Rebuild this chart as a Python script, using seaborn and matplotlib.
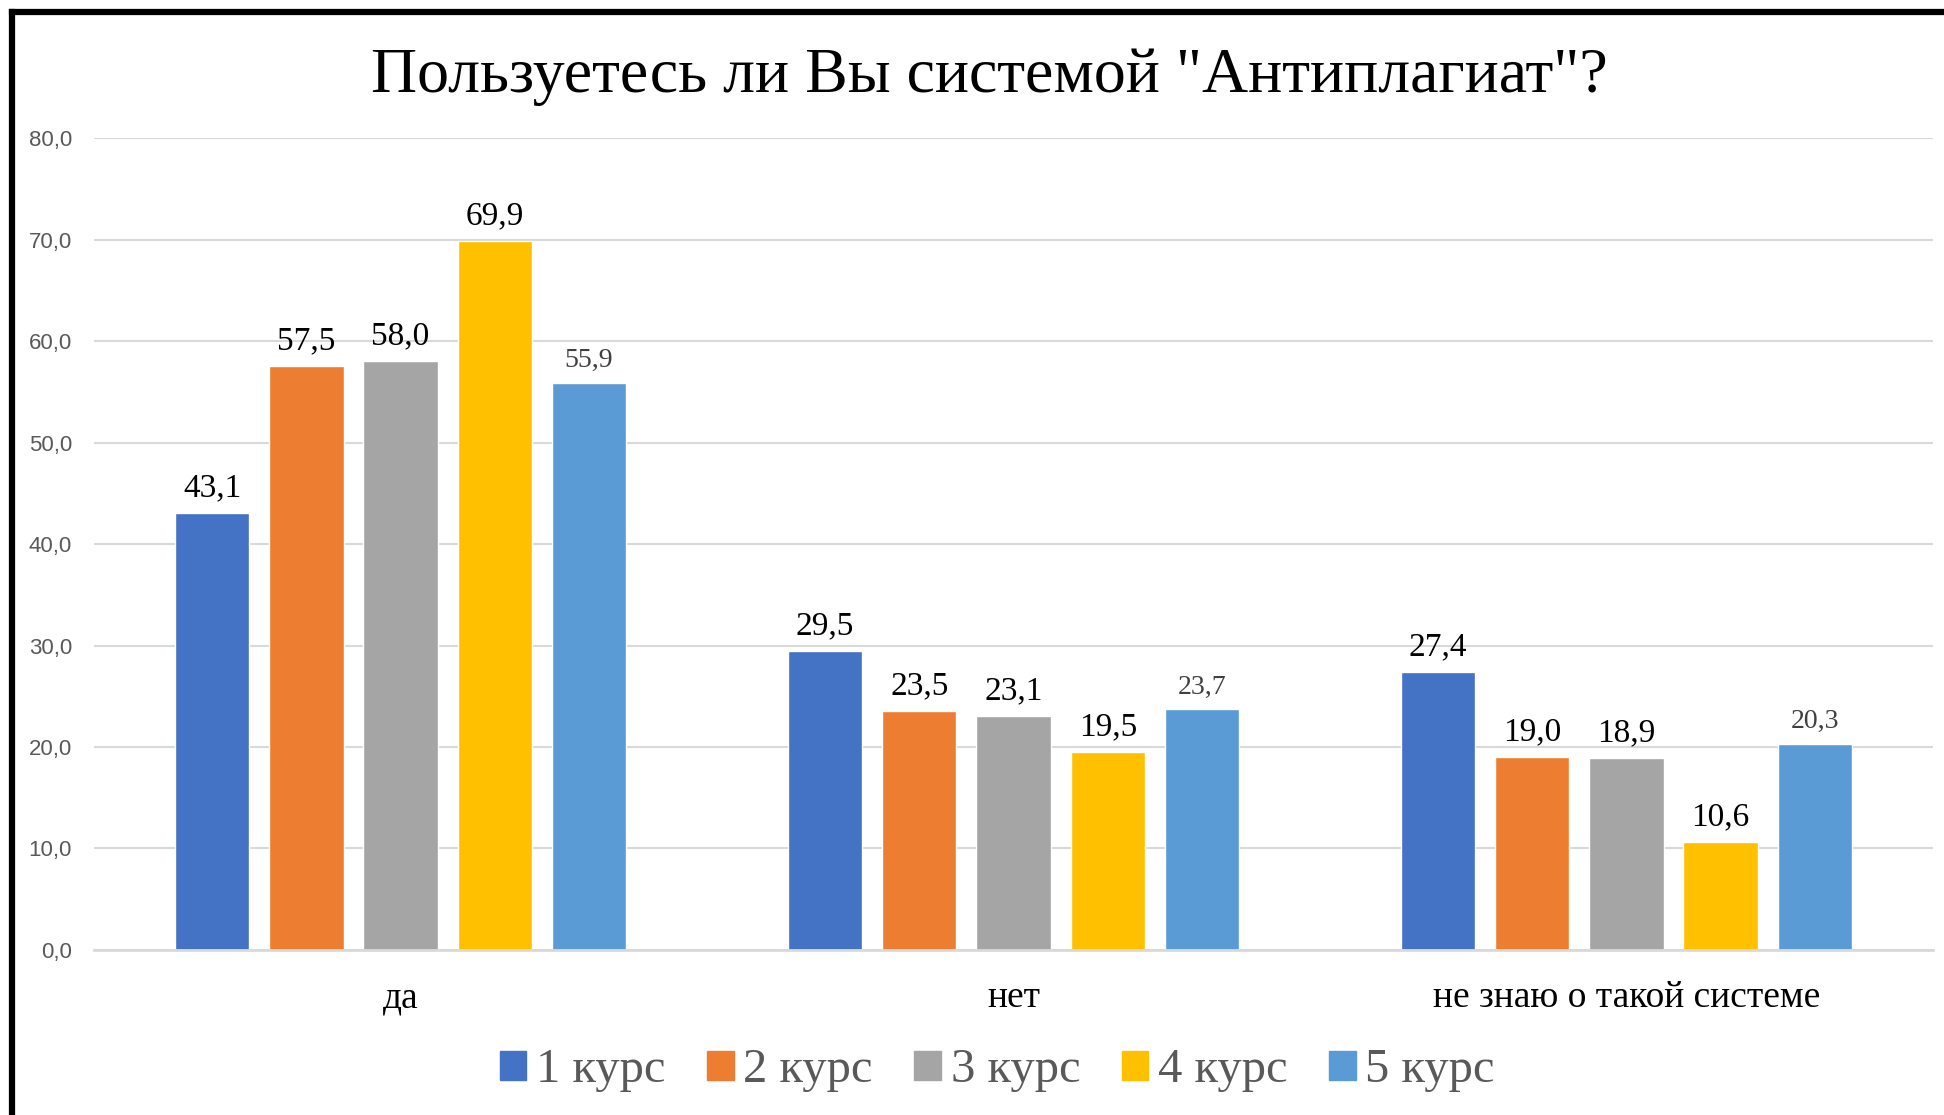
import pandas as pd
import numpy as np
import matplotlib
matplotlib.use("Agg")
import matplotlib.pyplot as plt
from matplotlib.lines import Line2D
import seaborn as sns

# data
answers = ['да', 'нет', 'не знаю о такой системе']
courses = ['1 курс', '2 курс', '3 курс', '4 курс', '5 курс']
course1 = [43.1, 29.5, 27.4]
course2 = [57.5, 23.5, 19.0]
course3 = [58.0, 23.1, 18.9]
course4 = [69.9, 19.5, 10.6]
course5 = [55.9, 23.7, 20.3]
colors = ['#4472C4', '#ED7D31', '#A5A5A5', '#FFC000', '#5B9BD5']
title = 'Пользуетесь ли Вы системой "Антиплагиат"?'

rows = []
for course, vals in zip(courses, [course1, course2, course3, course4, course5]):
    for ans, v in zip(answers, vals):
        rows.append({'answer': ans, 'course': course, 'value': v})
df = pd.DataFrame(rows)

sns.set_style("white")
plt.rcParams['font.family'] = ['Liberation Serif', 'DejaVu Serif']

fig = plt.figure(figsize=(19.44, 11.15), dpi=100)
ax = fig.add_axes([0.0484, 0.148, 0.9459, 0.7282])

sns.barplot(data=df, x='answer', y='value', hue='course', order=answers,
            hue_order=courses, palette=colors, width=0.769, gap=0.21,
            saturation=1, ax=ax, legend=False)

ax.set_xlim(-0.5, 2.5)
ax.set_ylim(0, 80)
ax.set_yticks(np.arange(0, 81, 10))
ax.set_yticklabels([f"{t:.1f}".replace('.', ',') for t in np.arange(0, 81, 10)],
                   family='Liberation Sans', fontsize=16, color='#595959')
ax.yaxis.grid(True, color='#D9D9D9', linewidth=1.5)
ax.set_axisbelow(True)
ax.tick_params(axis='y', length=0, pad=16)
ax.tick_params(axis='x', length=0, pad=22, labelsize=27, labelcolor='black')
ax.set_xlabel('')
ax.set_ylabel('')
for s in ['top', 'right', 'left']:
    ax.spines[s].set_visible(False)
ax.spines['bottom'].set_color('#D9D9D9')
ax.spines['bottom'].set_linewidth(2)

for i, cont in enumerate(ax.containers):
    labels = [f"{b.get_height():.1f}".replace('.', ',') for b in cont]
    if i == 4:
        ax.bar_label(cont, labels=labels, padding=7, fontsize=20, color='#404040')
    else:
        ax.bar_label(cont, labels=labels, padding=7, fontsize=24, color='black')

fig.text(0.509, 0.931, title, ha='center', va='center', fontsize=46, color='black')

handles = [plt.Rectangle((0, 0), 1, 1, color=c) for c in colors]
fig.legend(handles, courses, loc='center', bbox_to_anchor=(0.513, 0.04), ncol=5,
           frameon=False, fontsize=35, labelcolor='#595959',
           handlelength=0.55, handleheight=0.55, handletextpad=0.2,
           columnspacing=0.85)

# black frame edges visible in the reference (top and left)
fig.add_artist(Line2D([0.0062, 1.0], [0.9892, 0.9892], color='black', linewidth=4.5,
                      transform=fig.transFigure, solid_capstyle='projecting'))
fig.add_artist(Line2D([0.0062, 0.0062], [0.0, 0.9892], color='black', linewidth=4.5,
                      transform=fig.transFigure, solid_capstyle='projecting'))

fig.savefig('out.png', dpi=100)
